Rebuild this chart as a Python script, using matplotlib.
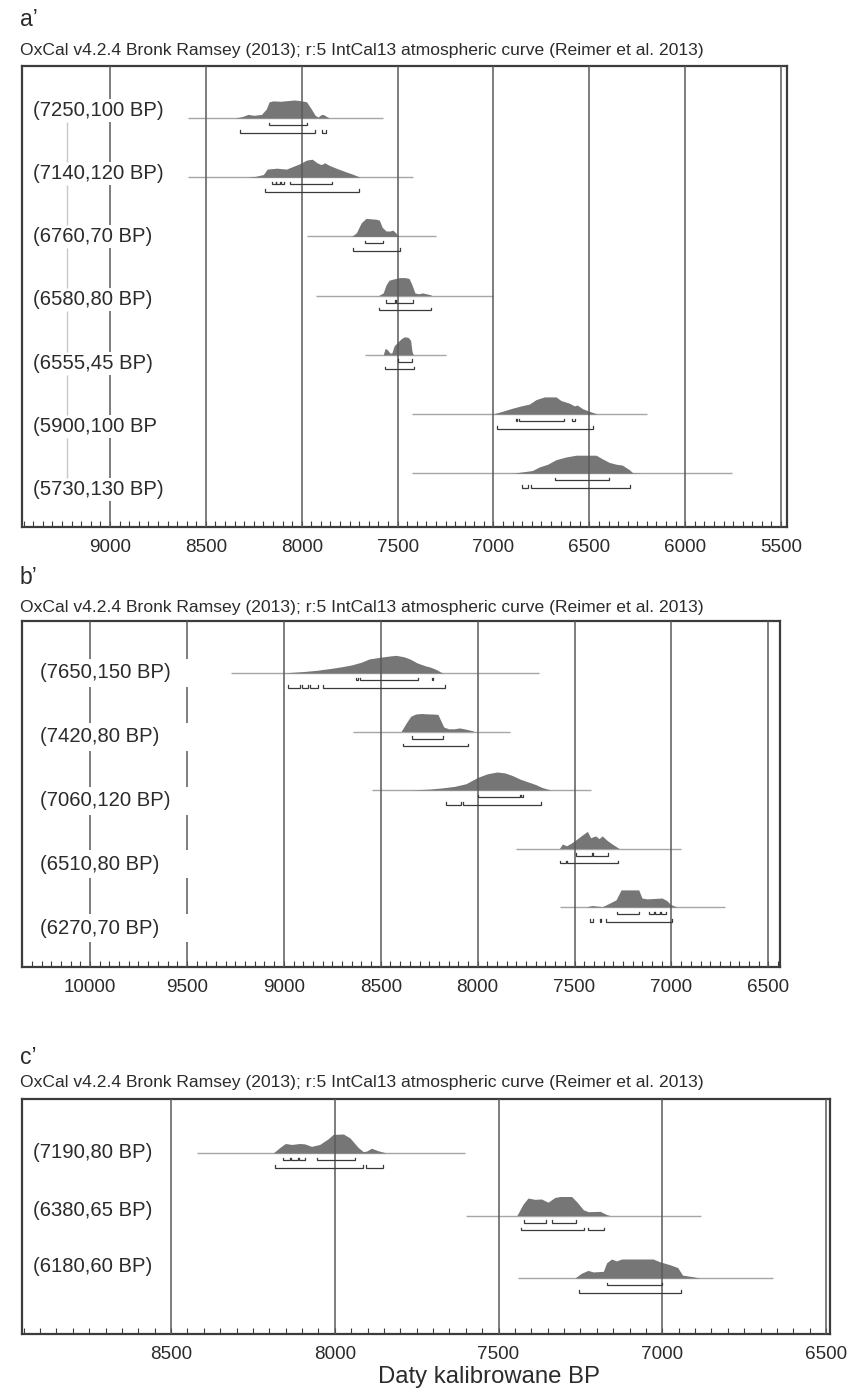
import numpy as np
import matplotlib
matplotlib.use("Agg")
import matplotlib.pyplot as plt
from matplotlib.ticker import MultipleLocator, FuncFormatter
from matplotlib.transforms import blended_transform_factory

plt.rcParams['font.family'] = ['Liberation Sans', 'DejaVu Sans']

W, H, DPI = 860, 1392, 100

SUBTITLE = "OxCal v4.2.4 Bronk Ramsey (2013); r:5 IntCal13 atmospheric curve (Reimer et al. 2013)"
XLABEL = "Daty kalibrowane BP"

# ---------------- panel a' ----------------
a_labels = ["(7250,100 BP)", "(7140,120 BP)", "(6760,70 BP)", "(6580,80 BP)",
            "(6555,45 BP)", "(5900,100 BP", "(5730,130 BP)"]
a_years = [
    [8350, 8310, 8280, 8250, 8210, 8185, 8170, 8150, 8110, 8070, 8040, 8010, 7975, 7950, 7930, 7915, 7900, 7888, 7870, 7855],
    [8290, 8240, 8200, 8180, 8130, 8080, 8045, 8010, 7975, 7945, 7920, 7898, 7880, 7855, 7820, 7770, 7730, 7695],
    [7740, 7715, 7690, 7665, 7640, 7610, 7595, 7580, 7560, 7540, 7525, 7510, 7495],
    [7600, 7575, 7560, 7545, 7530, 7510, 7490, 7460, 7440, 7425, 7410, 7390, 7370, 7350, 7330, 7320],
    [7575, 7565, 7555, 7540, 7530, 7518, 7500, 7480, 7465, 7445, 7432, 7425, 7418],
    [7004, 6960, 6908, 6856, 6813, 6778, 6734, 6674, 6648, 6604, 6578, 6563, 6536, 6500, 6458],
    [6901, 6830, 6797, 6760, 6717, 6674, 6622, 6569, 6465, 6432, 6396, 6361, 6328, 6292, 6274, 6224],
]
a_dens = [
    [0, 0.08, 0.2, 0.15, 0.2, 0.5, 0.9, 0.95, 0.93, 0.97, 1.0, 0.97, 0.9, 0.5, 0.15, 0.05, 0.18, 0.2, 0.08, 0],
    [0, 0.05, 0.15, 0.45, 0.5, 0.45, 0.6, 0.75, 0.95, 1.0, 0.8, 0.7, 0.8, 0.65, 0.5, 0.3, 0.15, 0],
    [0, 0.2, 0.75, 1.0, 0.98, 0.95, 0.9, 0.5, 0.3, 0.3, 0.35, 0.2, 0],
    [0, 0.15, 0.6, 0.85, 0.9, 0.95, 1.0, 1.0, 0.95, 0.6, 0.15, 0.1, 0.15, 0.1, 0.05, 0],
    [0, 0.35, 0.3, 0.1, 0.1, 0.5, 0.7, 0.9, 1.0, 0.97, 0.8, 0.2, 0],
    [0, 0.13, 0.3, 0.45, 0.55, 0.8, 0.95, 0.95, 0.75, 0.6, 0.45, 0.5, 0.3, 0.15, 0],
    [0, 0.1, 0.15, 0.35, 0.5, 0.75, 0.9, 1.0, 1.0, 0.8, 0.6, 0.5, 0.45, 0.2, 0.03, 0],
]
a_span = [(8594, 7578), (8594, 7422), (7974, 7302), (7927, 7005), (7672, 7245), (7427, 6198), (7427, 5755)]
a_sigma1 = [
    [(8170, 7975)],
    [(8155, 8136), (8132, 8114), (8110, 8092), (8063, 7840)],
    [(7670, 7575)],
    [(7560, 7515), (7510, 7420)],
    [(7500, 7427)],
    [(6884, 6876), (6865, 6630), (6590, 6575)],
    [(6677, 6396)],
]
a_sigma2 = [
    [(8320, 7930), (7895, 7872)],
    [(8190, 7700)],
    [(7735, 7490)],
    [(7595, 7325)],
    [(7568, 7417)],
    [(6980, 6480)],
    [(6850, 6818), (6802, 6286)],
]

# ---------------- panel b' ----------------
b_labels = ["(7650,150 BP)", "(7420,80 BP)", "(7060,120 BP)", "(6510,80 BP)", "(6270,70 BP)"]
b_years = [
    [9010, 8900, 8830, 8760, 8700, 8650, 8600, 8560, 8500, 8450, 8420, 8380, 8350, 8310, 8270, 8245, 8215, 8190, 8175],
    [8395, 8370, 8345, 8320, 8290, 8260, 8230, 8205, 8190, 8175, 8150, 8120, 8095, 8070, 8050, 8030, 8015],
    [8350, 8250, 8180, 8120, 8060, 8000, 7950, 7900, 7860, 7820, 7780, 7740, 7700, 7670, 7640, 7620],
    [7578, 7563, 7542, 7517, 7491, 7460, 7434, 7417, 7391, 7374, 7357, 7332, 7306, 7270],
    [7440, 7424, 7409, 7383, 7357, 7322, 7286, 7260, 7169, 7152, 7126, 7049, 7023, 7006, 6972],
]
b_dens = [
    [0, 0.08, 0.15, 0.25, 0.35, 0.45, 0.6, 0.78, 0.88, 0.95, 0.98, 0.9, 0.78, 0.55, 0.4, 0.33, 0.2, 0.05, 0],
    [0, 0.45, 0.85, 0.97, 1.0, 0.98, 0.97, 0.95, 0.6, 0.25, 0.15, 0.15, 0.2, 0.15, 0.1, 0.05, 0],
    [0, 0.05, 0.12, 0.2, 0.35, 0.7, 0.9, 1.0, 0.95, 0.8, 0.6, 0.45, 0.3, 0.15, 0.05, 0],
    [0, 0.25, 0.15, 0.3, 0.5, 0.75, 0.95, 0.6, 0.7, 0.55, 0.7, 0.45, 0.25, 0],
    [0, 0.05, 0.08, 0.05, 0.02, 0.2, 0.4, 0.95, 0.95, 0.5, 0.45, 0.5, 0.35, 0.15, 0],
]
b_span = [(9275, 7686), (8643, 7835), (8545, 7414), (7803, 6949), (7573, 6725)]
b_sigma1 = [
    [(8630, 8618), (8608, 8310), (8236, 8228)],
    [(8340, 8180)],
    [(8000, 7783), (7778, 7765)],
    [(7491, 7408), (7403, 7326)],
    [(7280, 7167), (7116, 7090), (7085, 7060), (7054, 7028)],
]
b_sigma2 = [
    [(8977, 8915), (8905, 8875), (8864, 8823), (8797, 8170)],
    [(8386, 8051)],
    [(8165, 8088), (8077, 7675)],
    [(7573, 7542), (7537, 7275)],
    [(7422, 7405), (7370, 7362), (7336, 6997)],
]

# ---------------- panel c' ----------------
c_labels = ["(7190,80 BP)", "(6380,65 BP)", "(6180,60 BP)"]
c_years = [
    [8188, 8167, 8151, 8131, 8107, 8092, 8071, 8046, 8020, 8005, 7974, 7954, 7929, 7913, 7903, 7888, 7868, 7842],
    [7444, 7425, 7410, 7389, 7369, 7349, 7328, 7312, 7277, 7260, 7241, 7226, 7190, 7170, 7160],
    [7267, 7247, 7227, 7211, 7180, 7170, 7155, 7140, 7124, 7028, 7007, 6977, 6953, 6938, 6907, 6886],
]
c_dens = [
    [0, 0.3, 0.5, 0.45, 0.5, 0.48, 0.35, 0.45, 0.75, 0.98, 1.0, 0.8, 0.3, 0.07, 0.1, 0.25, 0.12, 0],
    [0, 0.6, 0.92, 0.85, 0.87, 0.7, 0.95, 1.0, 1.0, 0.7, 0.3, 0.2, 0.22, 0.05, 0],
    [0, 0.25, 0.4, 0.32, 0.35, 0.8, 1.0, 0.9, 1.0, 1.0, 0.85, 0.7, 0.55, 0.15, 0.07, 0],
]
c_span = [(8422, 7603), (7600, 6882), (7441, 6662)]
c_sigma1 = [
    [(8158, 8138), (8133, 8113), (8109, 8091), (8055, 7939)],
    [(7421, 7354), (7338, 7262)],
    [(7168, 7000)],
]
c_sigma2 = [
    [(8183, 7915), (7905, 7854)],
    [(7430, 7238), (7226, 7177)],
    [(7253, 6942)],
]

# ---------------- styling ----------------
FILL = '#767676'
BASE = '#a6a6a6'
GRID = '#5a5a5a'
FRAME = '#3c3c3c'
BRACKET = '#3a3a3a'
TEXT = '#2b2b2b'

LABEL_FS = 14.6
TICK_FS = 13.6
SUB_FS = 12.6
PANEL_FS = 16.5

fig = plt.figure(figsize=(W / DPI, H / DPI), dpi=DPI)


def draw_panel(box, xlim, grid, broken, faint, labels, years, dens, spans, s1, s2,
               base0, base_step, lab0, lab_step, lab_x, gap, peak=18.0):
    x0, y0, x1, y1 = box
    ax = fig.add_axes([x0 / W, 1 - y1 / H, (x1 - x0) / W, (y1 - y0) / H])
    hpx = y1 - y0
    ax.set_xlim(*xlim)
    ax.set_ylim(hpx, 0)

    n = len(labels)
    bases = base0 + base_step * np.arange(n)
    labys = lab0 + lab_step * np.arange(n)

    # vertical grid lines; some are interrupted behind the row labels
    for g in grid:
        if g in broken:
            edges = [0.0]
            for ly in labys:
                edges += [ly - gap, ly + gap]
            edges.append(hpx)
            for k in range(0, len(edges), 2):
                ax.plot([g, g], [edges[k], edges[k + 1]], color=GRID, lw=1.1,
                        zorder=3, solid_capstyle='butt')
        else:
            ax.plot([g, g], [0, hpx], color=GRID, lw=1.1, zorder=3,
                    solid_capstyle='butt')
    for g in faint:
        for k in range(n - 1):
            ax.plot([g, g], [labys[k] + gap, labys[k + 1] - gap], color='#c8c8c8',
                    lw=1.0, zorder=2.5, solid_capstyle='butt')

    tr = blended_transform_factory(ax.transAxes, ax.transData)
    for i in range(n):
        b = bases[i]
        ax.plot(spans[i], [b, b], color=BASE, lw=1.0, zorder=1.5,
                solid_capstyle='butt')
        yr = np.array(years[i], dtype=float)
        d = np.array(dens[i], dtype=float)
        ax.fill_between(yr, b, b - peak * d, color=FILL, lw=0, zorder=2)
        # 68.2% and 95.4% ranges as bracketed bars
        for row, ranges in ((7.0, s1[i]), (14.5, s2[i])):
            yy = b + row
            for (ra, rb) in ranges:
                ax.plot([ra, ra, rb, rb], [yy - 2.5, yy, yy, yy - 2.5],
                        color=BRACKET, lw=0.9, zorder=4, solid_joinstyle='miter')
        ax.text((lab_x - x0) / (x1 - x0), labys[i], labels[i], transform=tr,
                ha='left', va='center', fontsize=LABEL_FS, color=TEXT, zorder=5)

    ax.xaxis.set_major_locator(MultipleLocator(500))
    ax.xaxis.set_minor_locator(MultipleLocator(50))
    ax.xaxis.set_major_formatter(FuncFormatter(lambda v, p: f"{int(round(v))}"))
    ax.tick_params(axis='x', which='both', direction='in', length=4, width=0.8,
                   color=FRAME, labelsize=TICK_FS, labelcolor=TEXT, pad=8.8,
                   top=False)
    ax.tick_params(axis='y', left=False, labelleft=False)
    for sp in ax.spines.values():
        sp.set_color(FRAME)
        sp.set_linewidth(1.6)
    return ax


def header(letter, y_letter, y_sub):
    fig.text(20 / W, 1 - y_letter / H, letter, fontsize=PANEL_FS, color=TEXT,
             ha='left', va='center')
    fig.text(20 / W, 1 - y_sub / H, SUBTITLE, fontsize=SUB_FS, color=TEXT,
             ha='left', va='center')


header("a\u2019", 20, 50)
draw_panel((22, 66, 787, 527), (9459, 5469),
           grid=[9000, 8500, 8000, 7500, 7000, 6500, 6000, 5500],
           broken=[9000], faint=[9225],
           labels=a_labels, years=a_years, dens=a_dens, spans=a_span,
           s1=a_sigma1, s2=a_sigma2,
           base0=52, base_step=59.2, lab0=44, lab_step=63.3, lab_x=33, gap=11.5)

header("b\u2019", 578, 607)
draw_panel((22, 621, 780, 967), (10351, 6440),
           grid=[10000, 9500, 9000, 8500, 8000, 7500, 7000, 6500],
           broken=[10000, 9500], faint=[],
           labels=b_labels, years=b_years, dens=b_dens, spans=b_span,
           s1=b_sigma1, s2=b_sigma2,
           base0=52, base_step=58.5, lab0=52, lab_step=63.75, lab_x=40, gap=14)

header("c\u2019", 1057, 1083)
draw_panel((22, 1099, 830, 1334), (8955, 6488),
           grid=[8500, 8000, 7500, 7000, 6500],
           broken=[], faint=[],
           labels=c_labels, years=c_years, dens=c_dens, spans=c_span,
           s1=c_sigma1, s2=c_sigma2,
           base0=54, base_step=62.5, lab0=54, lab_step=57, lab_x=33, gap=11, peak=19)

fig.text(489 / W, 1 - 1377 / H, XLABEL, fontsize=17.2, color=TEXT,
         ha='center', va='center')

fig.savefig("out.png", dpi=DPI, facecolor='white')
